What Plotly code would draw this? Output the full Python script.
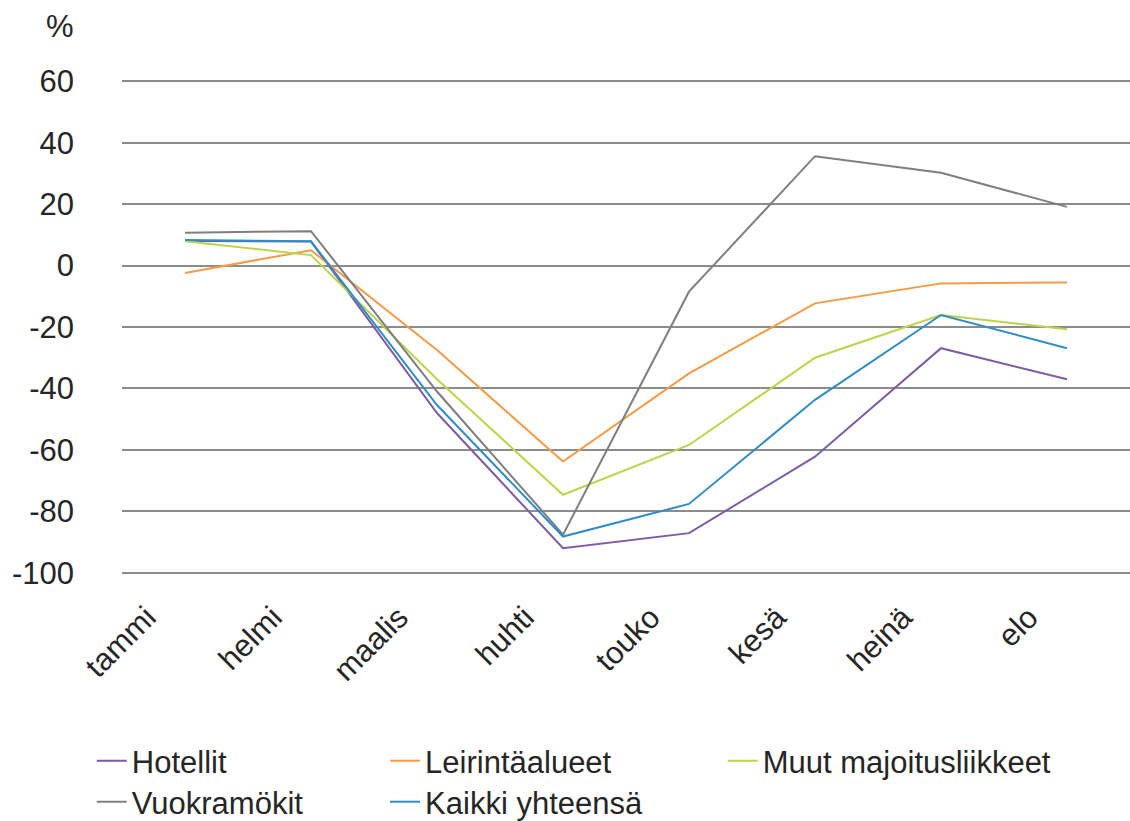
import plotly.graph_objects as go

# Monthly change in overnight stays (%), by accommodation type
months = ["tammi", "helmi", "maalis", "huhti", "touko", "kesä", "heinä", "elo"]

hotellit = [8.0, 7.8, -48.0, -92.0, -87.1, -62.2, -26.9, -37.0]
leirintaalueet = [-2.4, 5.0, -27.5, -63.8, -35.1, -12.3, -5.8, -5.5]
muut = [7.9, 3.4, -37.0, -74.6, -58.4, -30.0, -16.1, -20.7]
vuokramokit = [10.7, 11.2, -41.0, -87.6, -8.5, 35.6, 30.2, 19.1]
kaikki = [8.3, 7.9, -45.4, -88.2, -77.6, -43.7, -16.1, -26.9]

y_ticks = [60, 40, 20, 0, -20, -40, -60, -80, -100]

FONT = "Liberation Sans, Arial, sans-serif"
TEXT = "#262626"
SIZE = 31

# (name, values, colour, legend id, legend x, legend y) - legend laid out in a 3-column grid
series = [
    ("Hotellit", hotellit, "#7F5BA6", "legend", -0.030, -0.324),
    ("Leirintäalueet", leirintaalueet, "#F79A46", "legend2", 0.261, -0.324),
    ("Muut majoitusliikkeet", muut, "#BCD548", "legend3", 0.596, -0.324),
    ("Vuokramökit", vuokramokit, "#7F7F7F", "legend4", -0.030, -0.407),
    ("Kaikki yhteensä", kaikki, "#2F8DC6", "legend5", 0.261, -0.407),
]

fig = go.Figure()
legends = {}
for name, vals, color, leg, lx, ly in series:
    fig.add_trace(go.Scatter(
        x=months, y=vals, name=name, mode="lines",
        line=dict(color=color, width=2), legend=leg,
    ))
    legends[leg] = dict(
        x=lx, y=ly, xanchor="left", yanchor="top", orientation="v",
        font=dict(family=FONT, size=SIZE, color=TEXT),
        itemwidth=30, bgcolor="rgba(0,0,0,0)",
    )

fig.update_layout(
    width=1130, height=821,
    margin=dict(l=122, r=0, t=80, b=247, autoexpand=False),
    paper_bgcolor="white", plot_bgcolor="white",
    font=dict(family=FONT, size=SIZE, color=TEXT),
    showlegend=True,
    **legends,
    xaxis=dict(
        type="category", range=[-0.5, 7.5],
        showgrid=False, showline=False, zeroline=False, ticks="",
        tickangle=-45, ticklabelshift=-38, ticklabelstandoff=18,
        tickfont=dict(family=FONT, size=SIZE, color=TEXT),
    ),
    yaxis=dict(
        range=[-100.4, 60.4], tickvals=y_ticks,
        ticktext=[str(v) for v in y_ticks],
        showgrid=True, gridcolor="#8C8C8C", gridwidth=1.5,
        zeroline=True, zerolinecolor="#8C8C8C", zerolinewidth=1.5,
        showline=False, ticks="", ticklabelstandoff=47,
        tickfont=dict(family=FONT, size=SIZE, color=TEXT),
    ),
)

fig.add_annotation(
    text="%", xref="paper", yref="paper", x=-0.062, y=1.0, yshift=54,
    xanchor="center", yanchor="middle", showarrow=False,
    font=dict(family=FONT, size=SIZE, color=TEXT),
)

fig.write_html("out.html")
